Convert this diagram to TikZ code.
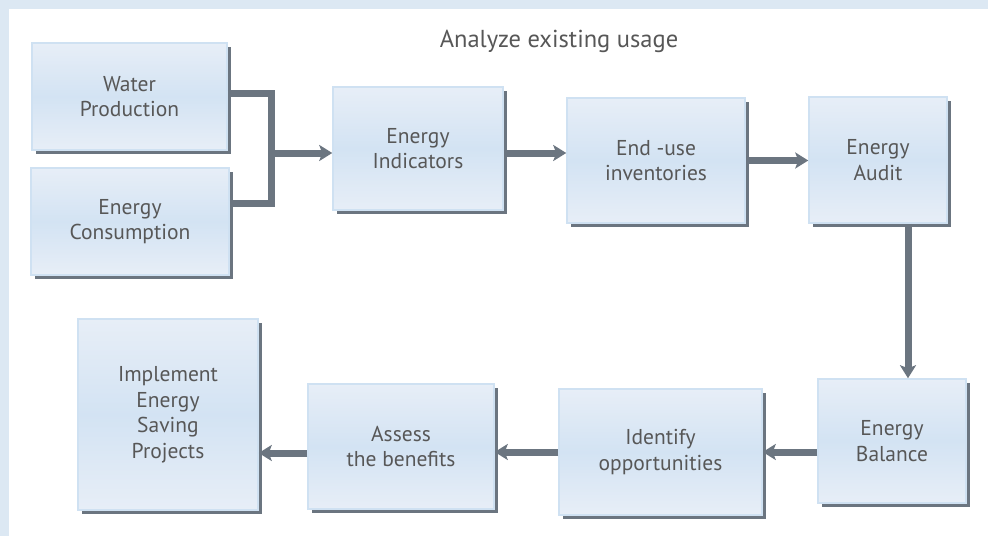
\documentclass[tikz,border=0pt]{standalone}
\usepackage{fontspec}
\setmainfont{PT Sans}
\usetikzlibrary{arrows.meta,shadows,calc}
\definecolor{framebg}{HTML}{DCE8F3}
\definecolor{boxtop}{HTML}{E7EEF7}
\definecolor{boxmid}{HTML}{D3E3F3}
\definecolor{boxline}{HTML}{CFE1F2}
\definecolor{shade}{HTML}{6B7580}
\definecolor{label}{HTML}{575757}
\tikzset{
    stage/.style = {
        draw = boxline,
        line width = 1.5pt,
        top color = boxtop,
        bottom color = boxtop,
        middle color = boxmid,
        text = label,
        align = center,
        inner sep = 0pt,
        font = \fontsize{21.5}{25.5}\selectfont,
        drop shadow = {shadow xshift=3.5pt, shadow yshift=-4pt, fill=shade, opacity=1},
        },
    flow/.style = {
        draw = shade,
        line width = 7pt,
        -{Stealth[length=13pt, width=16pt, inset=3pt]},
        },
    pipe/.style = {
        draw = shade,
        line width = 7pt,
        line join = miter,
        },
}
\begin{document}
\begin{tikzpicture}[x=1pt, y=-1pt]
            \useasboundingbox (0,0) rectangle (988,536);
            \fill[framebg] (0,0) rectangle (988,536);
            \fill[white] (9,9) rectangle (988,536);

            \node[text=label, font=\fontsize{24.5}{28}\selectfont] (title) at (559,41) {Analyze existing usage};

            \node[stage, minimum width=195pt, minimum height=107pt] (wp) at (129.5,96.5) {Water\\Production};
            \node[stage, minimum width=198pt, minimum height=107pt] (ec) at (130,221.5) {Energy\\Consumption};
            \node[stage, minimum width=170pt, minimum height=123pt] (ei) at (418,148.5) {Energy\\Indicators};
            \node[stage, minimum width=178pt, minimum height=125pt] (eu) at (656,160.5) {End -use\\inventories};
            \node[stage, minimum width=138pt, minimum height=126pt] (ea) at (878,160) {Energy\\Audit};
            \node[stage, minimum width=148pt, minimum height=124pt] (eb) at (892,441) {Energy\\Balance};
            \node[stage, minimum width=203pt, minimum height=126pt] (io) at (660.5,452) {Identify\\opportunities};
            \node[stage, minimum width=186pt, minimum height=125pt] (ab) at (401,446.5) {Assess\\the benefits};
            \node[stage, minimum width=180pt, minimum height=191pt] (ip) at (168,414.5) {Implement\\Energy\\Saving\\Projects};

            % merge of the two inputs
            \coordinate (jn) at (271,153);
            \draw[pipe] ([yshift=3.5pt]wp.east) -| (jn);
            \draw[pipe] ([yshift=18.5pt]ec.east) -| (jn);
            \draw[flow] (jn) -- (jn -| ei.west);

            \draw[flow] ([yshift=-4.5pt]ei.east) -- ([yshift=-4.5pt]ei.east -| eu.west);
            \draw[flow] (eu.east) -- (eu.east -| ea.west);
            \draw[flow] ([xshift=30pt]ea.south) -- ([xshift=30pt]ea.south |- eb.north);
            \draw[flow] (io.east -| eb.west) -- (io.east);
            \draw[flow] (io.west) -- (io.west -| ab.east);
            \draw[flow] ([yshift=-6.5pt]ab.west) -- ([yshift=-6.5pt]ab.west -| ip.east);
        \end{tikzpicture}
\end{document}
